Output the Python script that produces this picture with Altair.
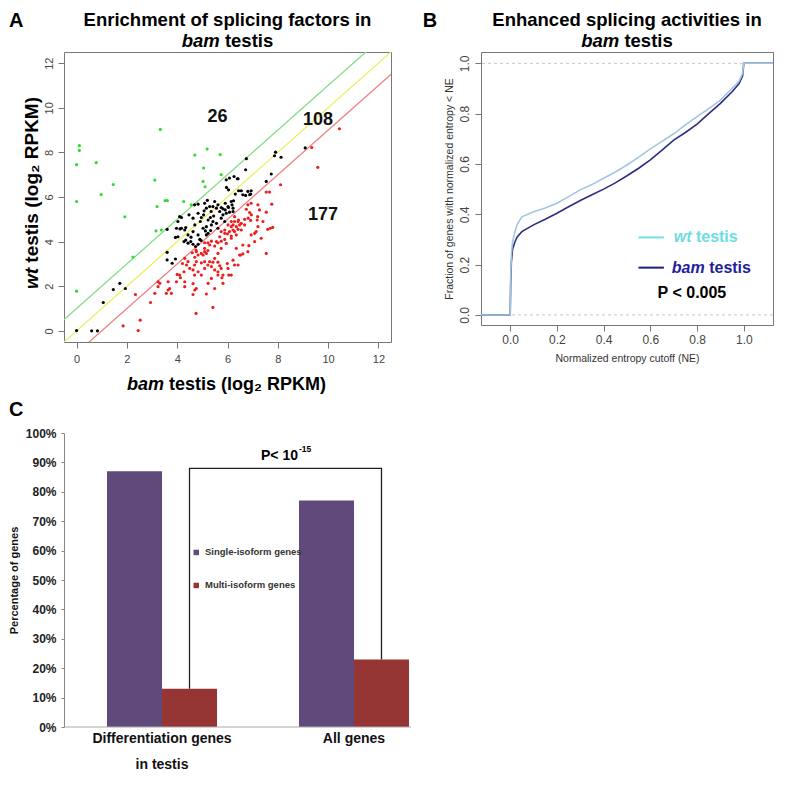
import altair as alt
import pandas as pd

FONT = "Liberation Sans"

# ---------------- Panel A: scatter of splicing factors ----------------
green_pts = [(3.33, 9.03), (0.11, 8.30), (0.11, 8.09), (0.00, 7.45), (0.78, 7.54), (1.46, 6.56),
             (0.98, 6.11), (0.00, 5.80), (1.92, 5.11), (3.11, 6.76), (3.20, 5.57), (3.52, 5.84),
             (3.61, 5.84), (4.26, 5.80), (4.70, 7.88), (5.19, 8.15), (5.05, 7.30), (5.03, 6.70),
             (5.11, 6.46), (4.56, 5.65), (3.16, 4.48), (3.37, 4.52), (0.00, 1.78), (2.24, 3.31),
             (5.71, 7.90), (5.75, 7.00)]

black_pts = [(0.00, 0.01), (0.60, 0.00), (0.83, 0.00), (1.06, 1.27), (1.46, 1.85), (1.72, 2.13),
             (1.94, 1.90), (3.60, 3.52), (3.60, 3.18), (3.80, 3.03), (3.93, 3.22), (3.60, 4.55),
             (3.93, 4.19), (4.03, 4.90), (4.17, 5.08), (4.27, 4.00), (4.34, 4.07), (4.43, 3.93),
             (4.54, 4.00), (4.63, 3.88), (4.73, 3.78), (4.83, 3.88), (4.47, 5.20), (4.69, 5.65),
             (4.83, 5.68), (4.96, 5.08), (5.05, 5.20), (4.92, 4.90), (5.09, 5.72), (5.16, 5.50),
             (5.07, 5.38), (5.23, 4.97), (5.32, 5.08), (5.42, 4.90), (5.03, 4.60), (5.12, 4.48),
             (5.23, 4.37), (5.33, 4.50), (5.16, 4.30), (5.49, 5.80), (5.62, 5.65), (5.75, 5.53),
             (5.69, 5.35), (5.82, 5.20), (5.91, 5.42), (6.02, 5.57), (6.08, 5.32), (6.15, 5.80),
             (6.22, 5.50), (6.26, 6.92), (6.42, 6.82), (6.31, 6.13), (6.55, 6.28), (6.61, 6.10),
             (6.75, 7.72), (6.72, 7.22), (6.81, 6.25), (6.92, 6.13), (7.54, 6.70), (7.74, 7.03),
             (7.87, 7.85), (7.91, 8.01), (8.13, 7.78), (9.09, 8.20), (4.43, 4.30), (4.63, 4.45),
             (4.83, 4.30), (4.03, 4.22), (4.17, 4.60), (5.16, 4.67), (5.36, 4.75), (5.56, 4.82),
             (5.62, 4.60), (5.75, 5.05), (5.89, 4.90), (4.11, 4.57), (4.34, 4.63), (5.95, 6.77),
             (6.08, 6.85), (6.39, 6.82), (6.44, 6.28), (6.94, 6.28), (5.29, 5.57), (4.63, 5.05),
             (4.83, 5.27), (5.96, 6.43), (6.04, 6.32), (6.88, 6.10), (6.72, 6.07), (6.24, 5.83),
             (6.18, 5.65), (5.91, 5.72), (6.04, 5.53), (5.42, 5.57), (5.56, 5.50), (5.82, 5.47),
             (5.95, 5.27), (6.22, 5.35), (4.30, 4.52), (3.97, 4.60), (4.10, 5.12), (5.20, 5.85),
             (5.35, 5.35), (4.55, 4.20), (4.90, 4.10), (4.95, 4.05), (5.45, 5.15), (4.70, 4.75)]

red_pts = [(10.45, 9.06), (9.35, 8.22), (9.59, 7.33), (8.11, 6.55), (7.67, 6.22), (7.54, 6.22),
           (7.76, 5.68), (6.81, 5.65), (6.94, 5.72), (6.75, 5.45), (6.88, 5.30), (6.82, 5.05),
           (6.95, 5.20), (6.92, 4.95), (7.21, 5.65), (7.27, 5.42), (7.54, 5.32), (7.20, 5.12),
           (7.18, 4.97), (6.28, 5.12), (6.44, 4.97), (6.28, 4.90), (6.55, 4.82), (6.35, 4.67),
           (6.22, 4.52), (6.15, 4.67), (7.60, 4.55), (7.70, 4.60), (7.54, 3.47), (6.85, 3.82),
           (5.16, 1.65), (3.24, 2.20), (3.24, 1.98), (3.64, 2.20), (3.70, 1.90), (3.97, 2.20),
           (4.10, 2.50), (4.30, 2.20), (4.30, 1.98), (4.63, 2.12), (4.76, 1.90), (4.69, 2.50),
           (3.57, 1.68), (3.77, 1.68), (3.11, 1.68), (4.63, 1.63), (1.85, 0.22), (2.45, 0.01),
           (2.53, 0.48), (2.34, 1.63), (2.94, 1.27), (3.31, 2.13), (3.64, 1.83), (4.00, 2.53),
           (4.13, 2.38), (4.27, 2.65), (4.75, 0.78), (4.70, 1.83), (5.42, 1.05), (7.80, 4.64),
           (7.08, 4.37), (6.61, 3.45), (6.52, 3.40), (6.28, 2.95), (6.05, 2.50), (5.99, 3.02),
           (5.78, 2.38), (5.62, 2.50), (5.49, 2.73), (5.36, 2.35), (4.96, 3.05), (5.09, 3.10),
           (5.22, 2.95), (5.42, 3.08), (5.62, 3.08), (5.69, 2.92), (5.75, 2.80), (5.09, 3.95),
           (5.22, 3.95), (5.36, 4.02), (5.49, 3.80), (5.62, 3.95), (5.75, 4.02), (5.89, 4.10),
           (6.00, 4.35), (6.15, 4.25), (6.28, 4.45), (6.42, 4.55), (6.48, 4.75), (6.68, 5.00),
           (6.15, 4.90), (6.02, 4.75), (5.89, 4.52), (5.75, 4.45), (5.16, 3.47), (5.03, 3.40),
           (4.60, 3.50), (4.75, 3.62), (4.70, 3.30), (4.76, 3.10), (4.83, 3.40), (4.96, 3.47),
           (5.09, 3.55), (5.22, 3.60), (4.21, 3.02), (4.37, 2.95), (4.50, 2.80), (4.63, 2.73),
           (4.30, 3.25), (4.43, 3.10), (4.69, 2.95), (4.83, 2.65), (4.96, 2.50), (5.09, 2.80),
           (5.29, 3.10), (5.36, 2.88), (5.49, 3.25), (5.62, 3.47), (5.75, 3.70), (5.95, 3.92),
           (6.15, 4.15), (6.35, 4.30), (6.55, 4.52), (6.68, 4.75), (5.62, 2.65), (5.82, 2.50),
           (6.02, 2.80), (5.23, 2.13), (5.49, 1.90), (5.82, 2.13), (4.76, 3.55), (5.09, 3.70),
           (5.29, 3.85), (5.56, 4.00), (5.69, 4.22), (5.89, 4.37), (6.08, 4.45), (6.22, 4.75),
           (6.42, 4.90), (6.94, 4.30), (7.14, 4.45), (7.08, 4.00), (6.81, 3.55), (6.61, 3.85),
           (7.21, 4.67), (7.41, 4.90), (7.34, 4.15), (6.35, 3.70), (6.48, 3.40), (6.22, 3.17),
           (6.42, 2.95), (6.15, 2.50)]

count_text = ["26", "108", "177"]
count_x = [5.6, 9.6, 9.8]
count_y = [9.57, 9.44, 5.2]

diag_names = ["wt higher", "equal", "bam higher"]
diag_offsets = [1, 0, -1]
diag_colors = ["#86dd86", "#eeee5c", "#ef8181"]
point_groups = ["enriched in wt", "similar", "enriched in bam"]
point_colors = ["#2fdc2f", "#000000", "#ec1f1f"]
a_ticks = [0, 2, 4, 6, 8, 10, 12]

# ---------------- Panel B: cumulative curves ----------------
ne_x = [-0.125, 0.0, 0.002, 0.005, 0.01, 0.02, 0.03, 0.05, 0.1, 0.15, 0.2, 0.25, 0.3, 0.35,
        0.4, 0.45, 0.5, 0.55, 0.6, 0.65, 0.7, 0.75, 0.8, 0.85, 0.9, 0.95, 0.98, 0.995, 1.0, 1.125]
wt_frac = [0, 0, 0.15, 0.24, 0.29, 0.33, 0.36, 0.39, 0.41, 0.425, 0.444, 0.47, 0.497, 0.518,
           0.543, 0.568, 0.596, 0.627, 0.66, 0.69, 0.72, 0.755, 0.788, 0.82, 0.854, 0.9, 0.93,
           0.96, 1.0, 1.0]
bam_frac = [0, 0, 0.12, 0.21, 0.26, 0.29, 0.31, 0.331, 0.358, 0.38, 0.404, 0.43, 0.455, 0.478,
            0.50, 0.525, 0.553, 0.583, 0.616, 0.655, 0.695, 0.725, 0.758, 0.80, 0.841, 0.887,
            0.92, 0.95, 1.0, 1.0]
b_ticks = [0.0, 0.2, 0.4, 0.6, 0.8, 1.0]
b_refs = [0.0, 1.0]
legend_x = [0.549, 0.658]
legend_y = [0.308, 0.188]

# ---------------- Panel C: grouped bars ----------------
cats = ["Differentiation genes|in testis", "All genes"]
groups = ["Single-isoform genes", "Multi-isoform genes"]
single_pct = [87, 77]
multi_pct = [13, 23]
bracket_top = 88
c_ticks = list(range(0, 101, 10))

TITLE_FS = 18.5


def label(text, x, y, size, bold=True, italic=False, align="left", baseline="alphabetic",
          color="#000", angle=0, dx=0):
    kw = dict(fontSize=size, fontWeight="bold" if bold else "normal",
              fontStyle="italic" if italic else "normal", align=align, baseline=baseline,
              color=color, font=FONT, dx=dx)
    if angle:
        kw["angle"] = angle
    return alt.Chart(pd.DataFrame({"t": [text]})).mark_text(**kw).encode(
        x=alt.value(x), y=alt.value(y), text="t:N")


def panel_title(first_line, w):
    return [
        label(first_line, w / 2, -26, TITLE_FS, align="center"),
        label("bam", w / 2 - 7.8, -5, TITLE_FS, italic=True, align="right"),
        label("testis", w / 2 - 2.6, -5, TITLE_FS, align="left"),
    ]


# ===== Panel A =====
WA, HA = 327, 290
rows = []
for g, pts in zip(point_groups, [green_pts, black_pts, red_pts]):
    rows += [{"x": x, "y": y, "g": g} for x, y in pts]
df_pts = pd.DataFrame(rows)
df_diag = pd.DataFrame([{"x": x, "y": x + o, "d": n}
                        for n, o in zip(diag_names, diag_offsets) for x in [-1, 14]])
df_counts = pd.DataFrame({"x": count_x, "y": count_y, "t": count_text})

sxA = alt.Scale(domain=[-0.5, 12.5], nice=False, zero=False)
syA = alt.Scale(domain=[-0.5, 12.5], nice=False, zero=False)
common_ax = dict(grid=False, domain=False, tickColor="#777", tickSize=6, labelColor="#444",
                 labelFont=FONT, title=None)
axAx = alt.Axis(values=a_ticks, labelFontSize=11, labelPadding=5, **common_ax)
axAy = alt.Axis(values=a_ticks, labelFontSize=11, labelPadding=4, labelAngle=270,
                labelAlign="center", labelBaseline="bottom", **common_ax)

diag = alt.Chart(df_diag).mark_line(clip=True, strokeWidth=1.3).encode(
    x=alt.X("x:Q", scale=sxA, axis=axAx),
    y=alt.Y("y:Q", scale=syA, axis=axAy),
    color=alt.Color("d:N", scale=alt.Scale(domain=diag_names, range=diag_colors), legend=None),
)
pts = alt.Chart(df_pts).mark_circle(size=10, opacity=1).encode(
    x=alt.X("x:Q", scale=sxA, axis=axAx), y=alt.Y("y:Q", scale=syA, axis=axAy),
    color=alt.Color("g:N", scale=alt.Scale(domain=point_groups, range=point_colors), legend=None),
)
counts = alt.Chart(df_counts).mark_text(fontSize=18, fontWeight="bold", font=FONT, color="#111").encode(
    x="x:Q", y="y:Q", text="t:N")

A = alt.layer(
    diag, pts, counts,
    label("A", -55, -25, 20),
    *panel_title("Enrichment of splicing factors in", WA),
    label("bam", 100, 338, 18, italic=True, align="right"),
    label("testis (log\u2082 RPKM)", 105, 338, 18, align="left"),
    label("wt", -26, 216, 19, italic=True, align="right", angle=270),
    label("testis (log\u2082 RPKM)", -26, 210.7, 19, align="left", angle=270),
).resolve_scale(color="independent").properties(
    width=WA, height=HA, view=alt.ViewBackground(stroke="#777"))

# ===== Panel B =====
WB, HB = 292, 273
df_curves = pd.DataFrame({"ne": ne_x * 2, "frac": wt_frac + bam_frac,
                          "s": ["wt"] * len(ne_x) + ["bam"] * len(ne_x)})
sxB = alt.Scale(domain=[-0.125, 1.125], nice=False, zero=False)
syB = alt.Scale(domain=[-0.04, 1.045], nice=False, zero=False)
axBx = alt.Axis(values=b_ticks, format=".1f", labelFontSize=12, labelPadding=3,
                grid=False, domain=False, tickColor="#777", tickSize=6, labelColor="#444",
                title="Normalized entropy cutoff (NE)", titleFontSize=10.5, titleFontWeight="normal",
                titleColor="#333", titleX=WB / 2, titleY=33.7, titleBaseline="middle", titleAlign="center")
axBy = alt.Axis(values=b_ticks, format=".1f", labelFontSize=12, labelPadding=4, labelAngle=270,
                labelAlign="center", labelBaseline="bottom",
                grid=False, domain=False, tickColor="#777", tickSize=6, labelColor="#444",
                title="Fraction of genes with normalized entropy < NE", titleFontSize=10.5,
                titleFontWeight="normal", titleColor="#333", titleX=-32, titleY=HB / 2,
                titleAngle=270, titleBaseline="middle", titleAlign="center")

refs = alt.Chart(pd.DataFrame({"y": b_refs})).mark_rule(
    strokeDash=[3, 3], color="#c4c4c4", strokeWidth=1).encode(
    y=alt.Y("y:Q", scale=syB, axis=axBy))
bam_line = alt.Chart(df_curves).transform_filter("datum.s == 'bam'").mark_line(
    color="#2c2d80", strokeWidth=1.6).encode(
    x=alt.X("ne:Q", scale=sxB, axis=axBx), y=alt.Y("frac:Q", scale=syB, axis=axBy))
wt_line = alt.Chart(df_curves).transform_filter("datum.s == 'wt'").mark_line(
    color="#a3c5e0", strokeWidth=1.6).encode(
    x=alt.X("ne:Q", scale=sxB, axis=axBx), y=alt.Y("frac:Q", scale=syB, axis=axBy))

df_leg = pd.DataFrame({"x0": [legend_x[0]] * 2, "x1": [legend_x[1]] * 2, "y": legend_y,
                       "s": ["wt", "bam"]})
leg_wt = alt.Chart(df_leg).transform_filter("datum.s == 'wt'").mark_rule(
    color="#6fe0e6", strokeWidth=2).encode(x="x0:Q", x2="x1:Q", y="y:Q")
leg_bam = alt.Chart(df_leg).transform_filter("datum.s == 'bam'").mark_rule(
    color="#1c1c86", strokeWidth=2).encode(x="x0:Q", x2="x1:Q", y="y:Q")


def blabel(text, xv, yv, dx, italic, color, align="left"):
    return alt.Chart(pd.DataFrame({"x": [xv], "y": [yv], "t": [text]})).mark_text(
        fontSize=16, fontWeight="bold", fontStyle="italic" if italic else "normal",
        align=align, baseline="middle", color=color, font=FONT, dx=dx).encode(
        x="x:Q", y="y:Q", text="t:N")


B = alt.layer(
    refs, bam_line, wt_line, leg_wt, leg_bam,
    blabel("wt", 0.70, legend_y[0], 0, True, "#6cdde2"),
    blabel("testis", 0.70, legend_y[0], 22.2, False, "#6cdde2"),
    blabel("bam", 0.692, legend_y[1], 0, True, "#1f2299"),
    blabel("testis", 0.692, legend_y[1], 37.3, False, "#1f2299"),
    blabel("P < 0.005", 0.778, 0.0886, 0, False, "#000", align="center"),
    label("B", -58.3, -25, 20),
    *panel_title("Enhanced splicing activities in", WB),
).properties(width=WB, height=HB, view=alt.ViewBackground(stroke="#777"))

# ===== Panel C =====
WC, HC = 347, 294
df_bar = pd.DataFrame([{"cat": c, "grp": g, "pct": v}
                       for g, vals in zip(groups, [single_pct, multi_pct])
                       for c, v in zip(cats, vals)])
df_br = pd.DataFrame({"cat": [cats[0], cats[0], cats[1], cats[1]],
                      "grp": [groups[1]] * 4,
                      "pct": [multi_pct[0], bracket_top, bracket_top, multi_pct[1]],
                      "o": [0, 1, 2, 3]})

sxC = alt.Scale(domain=cats, range=[43, 345], paddingInner=0.427, paddingOuter=0)
syC = alt.Scale(domain=[0, 100], nice=False)
axCx = alt.Axis(labelExpr="split(datum.label, '|')", labelFontSize=14, labelFontWeight="bold",
                labelColor="#111", labelLineHeight=26, ticks=False, tickSize=0, domain=False,
                labelPadding=4, labelBaseline="top", labelAngle=0, title=None, labelFont=FONT)
axCy = alt.Axis(values=c_ticks, labelExpr="datum.value + '%'", labelFontSize=12,
                labelFontWeight="bold", labelColor="#222", tickSize=3, tickColor="#888",
                domainColor="#888", labelPadding=5, grid=False, labelFont=FONT, labelOverlap=False,
                title="Percentage of genes", titleFontSize=11, titleFontWeight="bold",
                titleColor="#111", titleX=-50, titleY=HC / 2, titleAngle=270,
                titleAlign="center", titleBaseline="middle")

bars = alt.Chart(df_bar).mark_bar().encode(
    x=alt.X("cat:N", sort=cats, scale=sxC, axis=axCx),
    xOffset=alt.XOffset("grp:N", sort=groups, scale=alt.Scale(domain=groups, paddingInner=0, paddingOuter=0)),
    y=alt.Y("pct:Q", scale=syC, axis=axCy),
    color=alt.Color("grp:N", sort=groups,
                    scale=alt.Scale(domain=groups, range=["#604a7b", "#963634"]),
                    legend=alt.Legend(orient="none", legendX=127.5, legendY=114.7, title=None,
                                      symbolType="square", symbolSize=30, symbolStrokeWidth=0,
                                      labelFont=FONT, labelFontSize=9.5, labelFontWeight="bold",
                                      labelColor="#333", rowPadding=22, labelOffset=4, padding=0)),
)
base = alt.Chart(pd.DataFrame({"y": [0]})).mark_rule(color="#aaa", strokeWidth=1).encode(
    y=alt.Y("y:Q", scale=syC, axis=axCy))
bracket = alt.Chart(df_br).mark_line(color="#222", strokeWidth=1.3).encode(
    x=alt.X("cat:N", sort=cats, scale=sxC, axis=axCx),
    xOffset=alt.XOffset("grp:N", sort=groups),
    y=alt.Y("pct:Q", scale=syC, axis=axCy),
    order="o:Q",
)

C = alt.layer(
    bars, base, bracket,
    label("C", -55, -17, 20),
    label("P< 10", 197, 27, 14),
    label("-15", 235, 19, 8.5),
).properties(width=WC, height=HC)

chart = alt.vconcat(
    alt.hconcat(A, B, spacing=30), C, spacing=5
).resolve_scale(color="independent").resolve_legend(color="independent").properties(
    padding={"left": 0, "top": 2, "right": 0, "bottom": 2}
).configure(font=FONT).configure_view(stroke=None)

chart.save("out.html", embed_options={"renderer": "svg", "actions": False})
